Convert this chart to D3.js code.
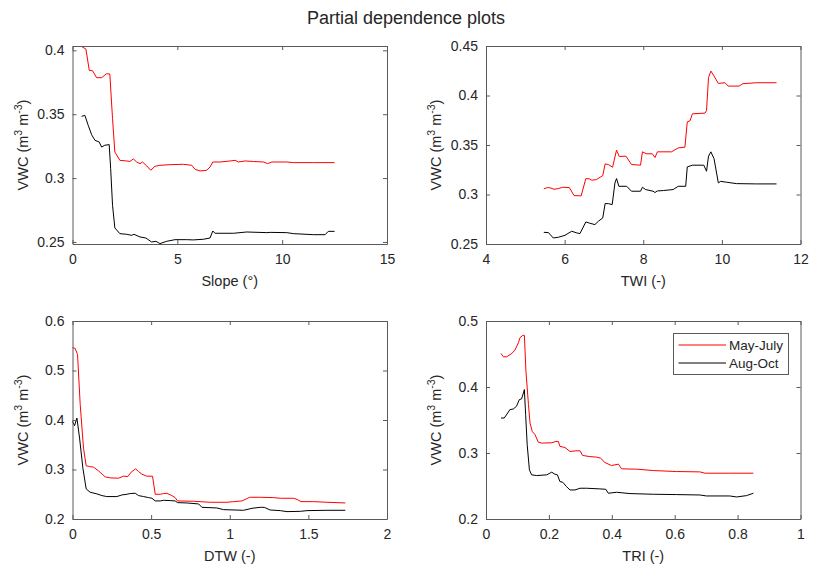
<!DOCTYPE html>
<html>
<head>
<meta charset="utf-8">
<script src="https://cdn.jsdelivr.net/npm/d3@7"></script>
<style>
  body { margin: 0; background: #fff; }
  text { font-family: "Liberation Sans", Arial, Helvetica, sans-serif; fill: #262626; }
</style>
</head>
<body>
<div id="chart"></div>
<script>
// series values, [x, VWC]
const slopeMay = [[0.43,0.403],[0.64,0.401],[0.8,0.3843],[0.96,0.384],[1.15,0.3786],[1.39,0.3786],[1.62,0.3817],[1.78,0.3815],[1.91,0.3465],[2.02,0.3204],[2.26,0.3139],[2.58,0.3134],[2.74,0.313],[2.9,0.315],[3.06,0.3126],[3.22,0.3113],[3.34,0.3126],[3.54,0.3095],[3.73,0.3061],[3.93,0.3092],[4.17,0.31],[4.65,0.3105],[5.29,0.3108],[5.69,0.31],[5.84,0.3069],[6.08,0.3056],[6.4,0.3061],[6.56,0.3087],[6.69,0.3126],[7.04,0.3126],[7.52,0.3134],[7.76,0.3139],[7.91,0.3126],[8.23,0.3134],[8.63,0.313],[9.11,0.3126],[9.3,0.3113],[9.51,0.3126],[10.22,0.3126],[10.54,0.3121],[11.5,0.3121],[12.5,0.3121]];
const slopeAug = [[0.43,0.3483],[0.59,0.3491],[0.75,0.3413],[0.91,0.334],[1.07,0.3296],[1.27,0.3283],[1.39,0.3243],[1.54,0.3257],[1.75,0.3262],[1.82,0.3074],[1.91,0.2787],[2.02,0.261],[2.26,0.2565],[2.58,0.256],[2.82,0.2552],[2.93,0.256],[3.22,0.2539],[3.5,0.2531],[3.77,0.25],[3.98,0.2505],[4.17,0.2487],[4.49,0.2505],[4.89,0.2518],[5.45,0.2518],[5.76,0.2516],[6.24,0.2521],[6.56,0.2531],[6.69,0.2586],[6.8,0.2568],[7.68,0.2568],[8.31,0.2578],[9.27,0.2573],[9.43,0.2575],[10.22,0.2573],[10.54,0.2565],[11.5,0.2557],[12.05,0.2557],[12.2,0.2583],[12.5,0.2583]];

const twiMay = [[5.47,0.3057],[5.56,0.307],[5.63,0.3067],[5.73,0.3053],[5.84,0.306],[5.95,0.3073],[6.12,0.307],[6.24,0.2989],[6.42,0.2986],[6.54,0.3161],[6.63,0.3158],[6.69,0.3144],[6.81,0.3151],[6.97,0.3191],[7.03,0.3309],[7.11,0.3303],[7.22,0.3276],[7.32,0.3448],[7.39,0.3384],[7.56,0.3387],[7.7,0.3303],[7.93,0.3296],[7.98,0.3431],[8.08,0.3411],[8.23,0.3411],[8.3,0.3374],[8.36,0.3431],[8.72,0.3431],[8.89,0.3471],[9.06,0.3478],[9.12,0.3734],[9.19,0.3744],[9.25,0.3815],[9.57,0.3822],[9.61,0.3849],[9.66,0.418],[9.72,0.4247],[9.8,0.4197],[9.91,0.4122],[10.08,0.4129],[10.16,0.4095],[10.44,0.4095],[10.53,0.4119],[10.88,0.4129],[11.39,0.4129]];
const twiAug = [[5.47,0.2618],[5.59,0.2615],[5.71,0.2561],[5.84,0.2568],[6.01,0.2588],[6.18,0.2629],[6.31,0.2612],[6.39,0.2605],[6.54,0.2723],[6.64,0.271],[6.77,0.2696],[6.86,0.273],[6.97,0.2763],[7.03,0.2908],[7.11,0.2908],[7.21,0.2898],[7.28,0.3117],[7.32,0.3161],[7.38,0.3083],[7.58,0.3083],[7.7,0.3033],[7.93,0.3033],[7.98,0.3073],[8.06,0.305],[8.25,0.3033],[8.3,0.302],[8.36,0.3036],[8.51,0.304],[8.76,0.305],[8.89,0.3083],[9.08,0.3083],[9.12,0.3279],[9.25,0.3296],[9.54,0.3296],[9.61,0.3235],[9.66,0.3387],[9.72,0.3431],[9.8,0.3363],[9.91,0.3117],[9.97,0.3133],[10.12,0.3124],[10.37,0.311],[10.88,0.3107],[11.39,0.3107]];

const dtwMay = [[0,0.546],[0.017,0.5446],[0.032,0.5324],[0.049,0.431],[0.07,0.3432],[0.087,0.3074],[0.108,0.3061],[0.134,0.3047],[0.165,0.2973],[0.208,0.2851],[0.24,0.2831],[0.293,0.2824],[0.324,0.2865],[0.352,0.2858],[0.373,0.2946],[0.401,0.3014],[0.42,0.2959],[0.441,0.2905],[0.473,0.2865],[0.509,0.2865],[0.526,0.25],[0.558,0.25],[0.579,0.2514],[0.6,0.252],[0.632,0.2473],[0.653,0.2432],[0.668,0.2365],[0.77,0.2358],[0.876,0.2338],[0.982,0.2338],[1.024,0.2351],[1.077,0.2365],[1.105,0.2405],[1.126,0.2439],[1.194,0.2439],[1.279,0.2432],[1.321,0.2419],[1.406,0.2419],[1.431,0.2392],[1.453,0.2351],[1.533,0.2351],[1.618,0.2338],[1.735,0.2324]];
const dtwAug = [[0,0.3973],[0.013,0.3885],[0.028,0.404],[0.045,0.3635],[0.066,0.3027],[0.087,0.2608],[0.112,0.2541],[0.155,0.2507],[0.187,0.2473],[0.218,0.2453],[0.282,0.2453],[0.314,0.2486],[0.346,0.25],[0.367,0.2514],[0.399,0.252],[0.42,0.2473],[0.452,0.2453],[0.484,0.2432],[0.505,0.2419],[0.526,0.2365],[0.558,0.2365],[0.579,0.2378],[0.621,0.2372],[0.653,0.2365],[0.668,0.2331],[0.727,0.2324],[0.802,0.2304],[0.823,0.2236],[0.918,0.2223],[0.961,0.2189],[1.088,0.2176],[1.141,0.2216],[1.194,0.2236],[1.219,0.2236],[1.257,0.2182],[1.321,0.2169],[1.364,0.2149],[1.449,0.2155],[1.491,0.2169],[1.618,0.2176],[1.735,0.2176]];

const triMay = [[0.0477,0.4508],[0.055,0.4458],[0.066,0.4458],[0.082,0.4508],[0.092,0.4559],[0.103,0.467],[0.108,0.4747],[0.117,0.4782],[0.122,0.4782],[0.127,0.424],[0.135,0.3733],[0.14,0.3454],[0.147,0.3327],[0.156,0.3277],[0.166,0.3165],[0.177,0.315],[0.209,0.3155],[0.222,0.3175],[0.23,0.3175],[0.235,0.31],[0.251,0.3084],[0.267,0.3023],[0.286,0.3033],[0.299,0.3033],[0.307,0.2963],[0.328,0.2947],[0.352,0.2937],[0.364,0.2922],[0.378,0.2856],[0.399,0.281],[0.421,0.2831],[0.431,0.276],[0.479,0.2755],[0.532,0.2734],[0.606,0.2719],[0.68,0.2714],[0.696,0.2694],[0.775,0.2694],[0.85,0.2694]];
const triAug = [[0.0477,0.353],[0.058,0.353],[0.069,0.3606],[0.076,0.3657],[0.087,0.3667],[0.097,0.3708],[0.106,0.3809],[0.113,0.3819],[0.119,0.391],[0.122,0.3961],[0.126,0.3581],[0.131,0.3125],[0.138,0.2745],[0.145,0.2669],[0.161,0.2658],[0.193,0.2669],[0.203,0.2694],[0.209,0.2709],[0.219,0.2679],[0.227,0.2669],[0.235,0.2567],[0.244,0.2557],[0.256,0.2491],[0.267,0.244],[0.283,0.244],[0.299,0.2466],[0.32,0.2466],[0.362,0.2456],[0.381,0.245],[0.389,0.239],[0.415,0.2405],[0.458,0.2385],[0.532,0.2375],[0.606,0.237],[0.68,0.2364],[0.701,0.2349],[0.775,0.2349],[0.797,0.2334],[0.828,0.2354],[0.85,0.239]];

// axis labels and ticks
const xLabels = ["Slope (\u00B0)", "TWI (-)", "DTW (-)", "TRI (-)"];
const xTicks = [[0, 5, 10, 15], [4, 6, 8, 10, 12], [0, 0.5, 1, 1.5, 2], [0, 0.2, 0.4, 0.6, 0.8, 1]];
const yTicks = [[0.25, 0.3, 0.35, 0.4], [0.25, 0.3, 0.35, 0.4, 0.45], [0.2, 0.3, 0.4, 0.5, 0.6], [0.2, 0.3, 0.4, 0.5]];
const seriesNames = ["May-July", "Aug-Oct"];
const seriesColors = ["#ff0000", "#000000"];

const width = 813, height = 575;
const svg = d3.select("#chart").append("svg")
  .attr("width", width).attr("height", height);

svg.append("text")
  .attr("x", 406).attr("y", 24)
  .attr("text-anchor", "middle")
  .style("font-size", "18px")
  .text("Partial dependence plots");

const panels = [
  { left: 72.5, top: 46, xd: [0, 15], yd: [0.2484, 0.4034], series: [slopeMay, slopeAug] },
  { left: 486, top: 46, xd: [4, 12], yd: [0.25, 0.45], series: [twiMay, twiAug] },
  { left: 72.5, top: 321, xd: [0, 2], yd: [0.2, 0.6], series: [dtwMay, dtwAug] },
  { left: 486, top: 321, xd: [0, 1], yd: [0.2, 0.5], series: [triMay, triAug] }
];
const pw = 314.5, ph = 198;
const fmt = d3.format("~g");

panels.forEach((p, i) => {
  const x = d3.scaleLinear().domain(p.xd).range([p.left, p.left + pw]);
  const y = d3.scaleLinear().domain(p.yd).range([p.top + ph, p.top]);

  const g = svg.append("g");

  // lines
  p.series.forEach((s, k) => {
    g.append("path")
      .datum(s)
      .attr("fill", "none")
      .attr("stroke", seriesColors[k])
      .attr("stroke-width", 1)
      .attr("d", d3.line().x(d => x(d[0])).y(d => y(Math.min(d[1], p.yd[1]))));
  });

  // axes, ticks pointing inward on all four sides
  const styleAxis = a => {
    a.select(".domain").attr("stroke", "#5a5a5a");
    a.selectAll(".tick line").attr("stroke", "#5a5a5a");
    a.selectAll(".tick text").style("font-size", "14px").attr("fill", "#262626");
  };
  g.append("g").attr("transform", `translate(0,${p.top + ph})`)
    .call(d3.axisBottom(x).tickValues(xTicks[i]).tickFormat(fmt).tickSizeInner(-4).tickSizeOuter(0).tickPadding(10))
    .call(styleAxis);
  g.append("g").attr("transform", `translate(0,${p.top})`)
    .call(d3.axisTop(x).tickValues(xTicks[i]).tickFormat("").tickSizeInner(-4).tickSizeOuter(0))
    .call(styleAxis);
  g.append("g").attr("transform", `translate(${p.left},0)`)
    .call(d3.axisLeft(y).tickValues(yTicks[i]).tickFormat(fmt).tickSizeInner(-4).tickSizeOuter(0).tickPadding(8))
    .call(styleAxis);
  g.append("g").attr("transform", `translate(${p.left + pw},0)`)
    .call(d3.axisRight(y).tickValues(yTicks[i]).tickFormat("").tickSizeInner(-4).tickSizeOuter(0))
    .call(styleAxis);

  // x label
  g.append("text")
    .attr("x", p.left + pw / 2).attr("y", p.top + ph + 42)
    .attr("text-anchor", "middle")
    .style("font-size", "14.5px")
    .text(xLabels[i]);

  // y label with superscripts
  const yl = g.append("text")
    .attr("transform", `translate(${p.left - 45},${p.top + ph / 2}) rotate(-90)`)
    .attr("text-anchor", "middle")
    .style("font-size", "14.5px");
  yl.append("tspan").text("VWC (m");
  yl.append("tspan").attr("dy", -6).style("font-size", "10.5px").text("3");
  yl.append("tspan").attr("dy", 6).text(" m");
  yl.append("tspan").attr("dy", -6).style("font-size", "10.5px").text("-3");
  yl.append("tspan").attr("dy", 6).text(")");
});

// legend in the last panel
const lg = svg.append("g").attr("transform", "translate(673.5,333.5)");
lg.append("rect")
  .attr("width", 115).attr("height", 41)
  .attr("fill", "#fff").attr("stroke", "#5a5a5a");
seriesNames.forEach((n, k) => {
  lg.append("line")
    .attr("x1", 5).attr("x2", 52.5)
    .attr("y1", 11.5 + k * 18).attr("y2", 11.5 + k * 18)
    .attr("stroke", seriesColors[k]);
  lg.append("text")
    .attr("x", 55.5).attr("y", 11.5 + k * 18)
    .attr("dy", "0.35em")
    .style("font-size", "13.5px")
    .text(n);
});
</script>
</body>
</html>
